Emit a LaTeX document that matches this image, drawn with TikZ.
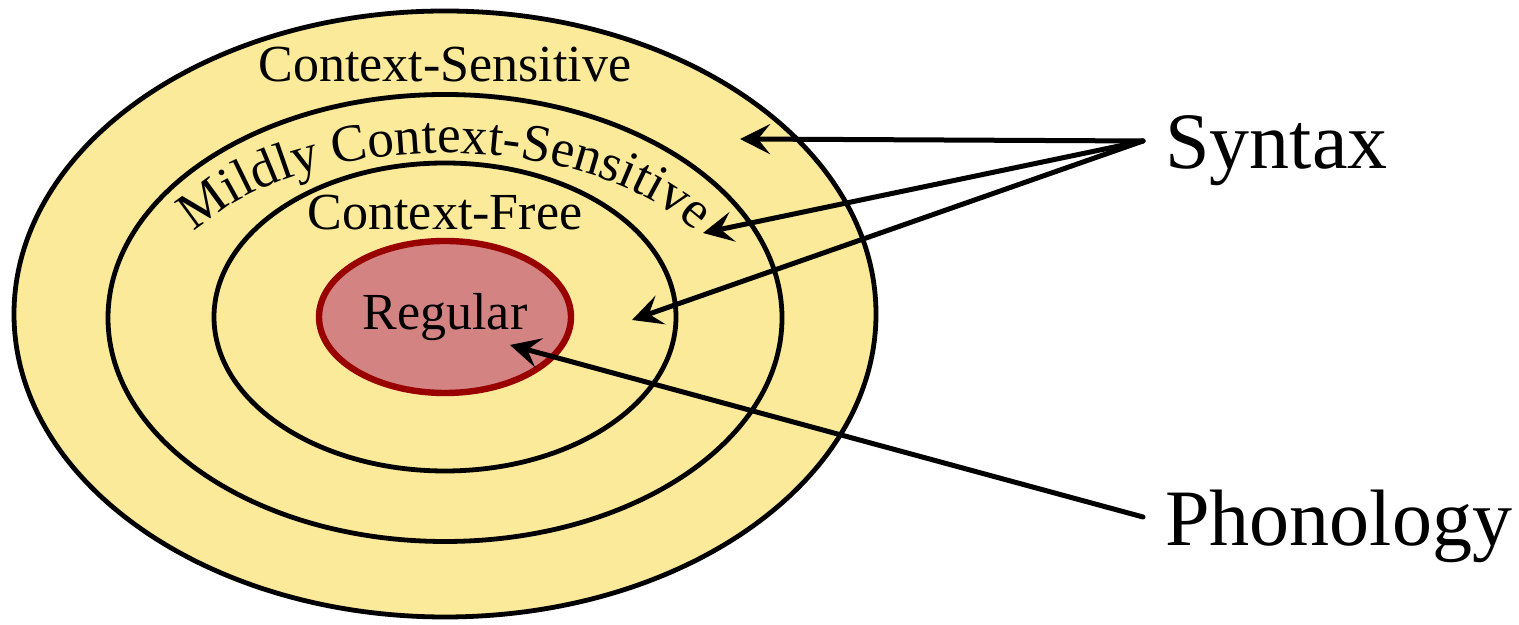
\documentclass[tikz,border=0pt]{standalone}
\usepackage{fontspec}
\setmainfont{Liberation Serif}
\usetikzlibrary{shapes.geometric,arrows.meta,decorations.text}

\definecolor{setyellow}{RGB}{251,234,154}
\definecolor{setpink}{RGB}{212,131,131}
\definecolor{setred}{RGB}{153,0,0}

\tikzset{
  langset/.style={ellipse, draw=black, line width=2.4pt, fill=setyellow, inner sep=0pt},
  regset/.style={ellipse, draw=setred, line width=3.2pt, fill=setpink, inner sep=0pt},
  setlabel/.style={font=\fontsize{26}{30}\selectfont, anchor=base, inner sep=0pt},
  fieldlabel/.style={font=\fontsize{40}{46}\selectfont, anchor=base west, inner sep=0pt},
  pointer/.style={line width=2.5pt, line cap=round,
    -{Stealth[length=15pt, width=15pt, inset=6pt]}}
}

\begin{document}
\begin{tikzpicture}[x=0.5pt, y=0.5pt]
  \useasboundingbox (0,0) rectangle (1519,625);

  % nested language classes
  \node[langset, minimum width=431pt, minimum height=303pt] (cs) at (445,311) {};
  \node[langset, minimum width=337pt, minimum height=223.5pt] (mcs) at (445,307) {};
  \node[langset, minimum width=231pt, minimum height=154pt] (cf) at (445,308) {};
  \node[regset, minimum width=126pt, minimum height=76pt] (reg) at (445,308) {};

  % class names
  \node[setlabel] (cslab) at (445,543) {Context-Sensitive};
  \node[setlabel] (cflab) at (445,395) {Context-Free};
  \node[setlabel] (reglab) at (445,295) {Regular};
  \path[decorate, decoration={text along path, text align=center,
      text={|\fontsize{26.5}{32}\selectfont|Mildly Context-Sensitive}}]
    (445,310) ++(155:292 and 162) arc[start angle=155, end angle=25, x radius=292, y radius=162];

  % fields of linguistics
  \node[fieldlabel] (syn) at (1165,456) {Syntax};
  \node[fieldlabel] (pho) at (1165,79) {Phonology};

  \coordinate (synfoot) at (1143,484);
  \coordinate (phofoot) at (1143,108);
  \coordinate (incs)  at (740,486);
  \coordinate (inmcs) at (703,392);
  \coordinate (incf)  at (632,305);
  \coordinate (inreg) at (510,280);

  \draw[pointer] (synfoot) -- (incs);
  \draw[pointer] (synfoot) -- (inmcs);
  \draw[pointer] (synfoot) -- (incf);
  \draw[pointer] (phofoot) -- (inreg);
\end{tikzpicture}
\end{document}
